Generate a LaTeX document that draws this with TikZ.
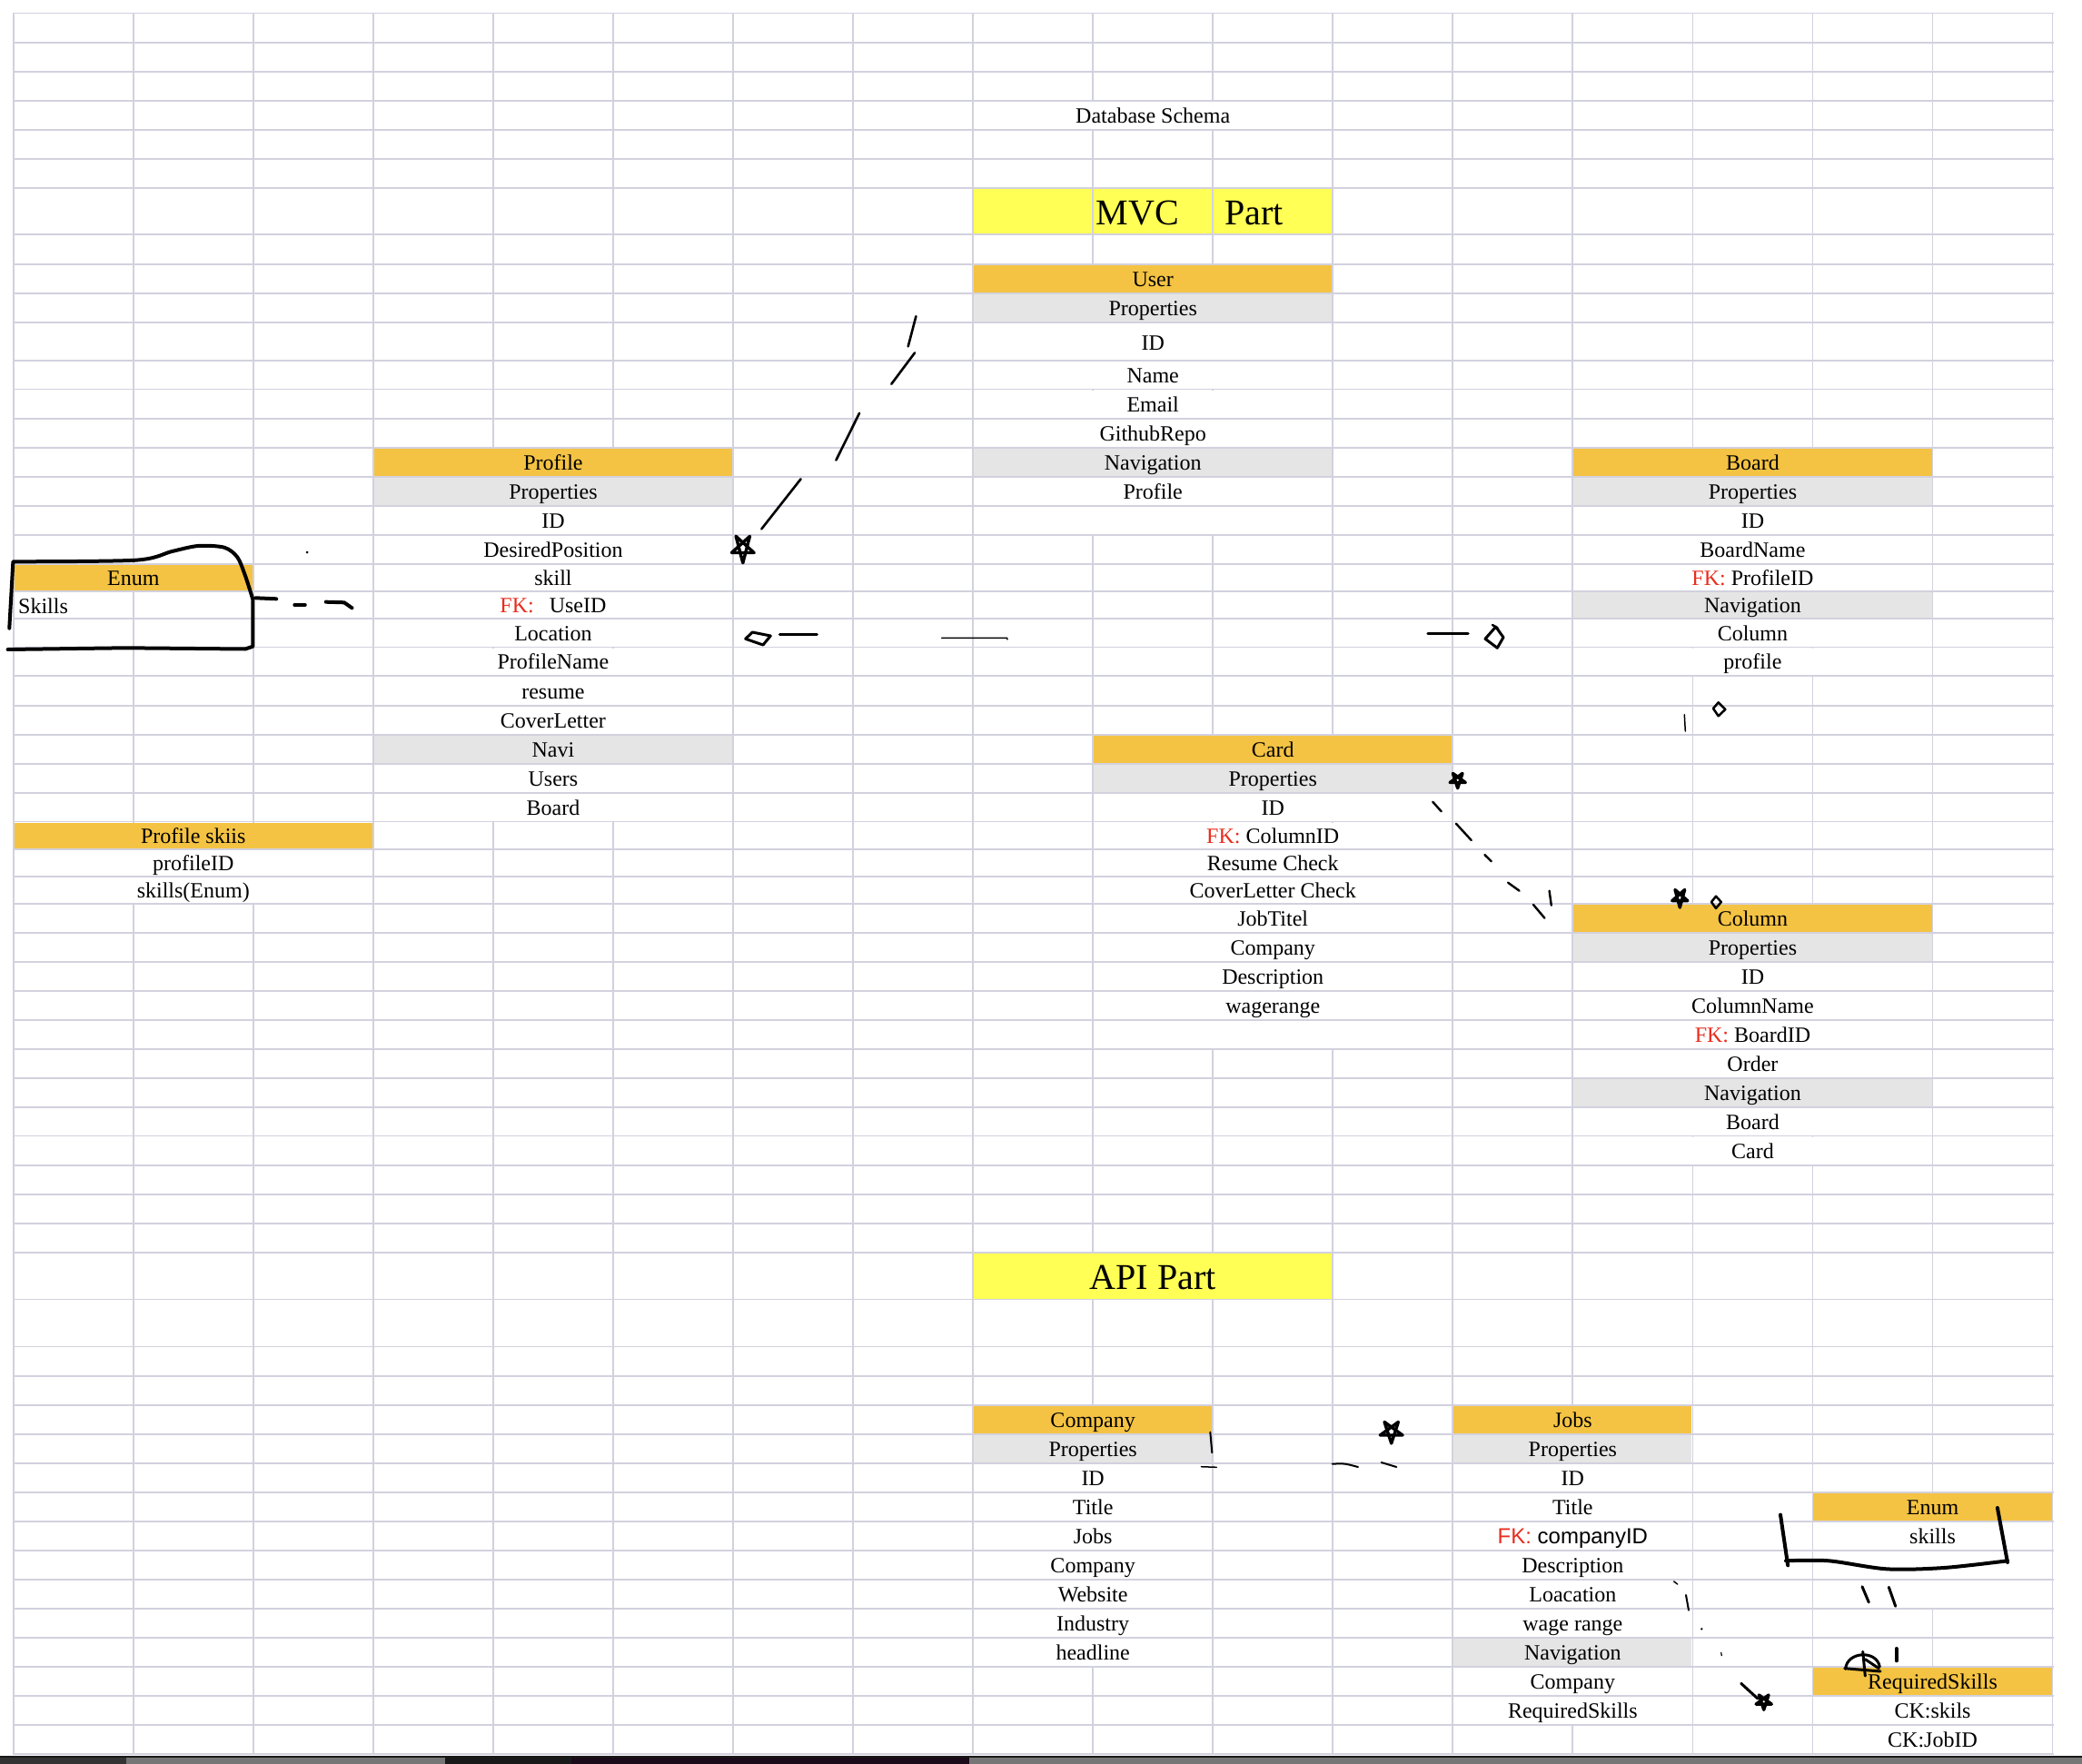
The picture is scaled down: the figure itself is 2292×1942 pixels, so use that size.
\documentclass[tikz,border=0pt]{standalone}
\usepackage{fontspec}
\setmainfont{Liberation Serif}
\newfontfamily\arialf{Liberation Sans}
\usetikzlibrary{calc}
\definecolor{gridc}{RGB}{210,209,222}
\definecolor{hdr}{RGB}{244,195,67}
\definecolor{ttl}{RGB}{255,255,85}
\definecolor{prop}{RGB}{229,229,229}
\definecolor{fkred}{RGB}{232,45,30}
\definecolor{barg}{RGB}{118,118,118}
\definecolor{bard}{RGB}{27,10,26}
\def\RY{{14.5,46.8,78.8,110.7,143.0,174.9,206.9,258.3,291.0,322.9,354.8,396.7,428.6,460.6,492.9,524.8,556.8,588.6,620.6,650.7,680.7,712.5,744.3,776.7,808.6,840.7,872.7,904.5,934.6,964.6,995.0,1026.8,1058.9,1090.7,1122.6,1155.0,1186.8,1218.7,1250.5,1282.8,1314.7,1346.6,1378.9,1430.5,1482.5,1514.8,1546.7,1578.7,1611.0,1643.0,1674.7,1706.6,1738.6,1770.9,1802.8,1834.6,1866.9,1899.1,1931.0}}
\newcommand\mkfill[4]{%
  \pgfmathsetmacro\xa{14.7+132.05*#1+1}%
  \pgfmathsetmacro\xb{14.7+132.05*#2-1}%
  \pgfmathtruncatemacro\rn{#3+1}%
  \pgfmathsetmacro\ya{\RY[#3]+1}%
  \pgfmathsetmacro\yb{\RY[\rn]-1}%
  \fill[#4] (\xa,\ya) rectangle (\xb,\yb);}
\newcommand\mktext[6][8.5]{%
  \pgfmathsetmacro\xc{14.7+132.05*(#3+#4)/2}%
  \pgfmathtruncatemacro\rn{#5+1}%
  \pgfmathsetmacro\ya{\RY[#5]}%
  \pgfmathsetmacro\yb{\RY[\rn]}%
  \pgfmathsetmacro\yc{(\ya+\yb)/2+#1}%
  \node[celltxt] (#2) at (\xc,\yc) {#6};}
\newcommand\hstar[4][1]{%
  \draw[handd, line width=3.4, shift={(#2,#3)}, yscale=#1] (90:#4) -- (234:#4) -- (18:#4) -- (162:#4) -- (306:#4) -- cycle;}
\newcommand\fk{\textcolor{fkred}{FK:}}
\tikzset{
  gridline/.style={draw=gridc, line width=1.8, line cap=rect},
  celltxt/.style={anchor=base, inner sep=0pt, font=\fontsize{24}{28}\selectfont, text=black},
  titletxt/.style={anchor=base, inner sep=0pt, font=\fontsize{40}{46}\selectfont, text=black},
  handd/.style={draw=black, line width=3, line cap=round, line join=round},
}
\begin{document}
\begin{tikzpicture}[x=1pt,y=-1pt]
\useasboundingbox (0,0) rectangle (2292,1942);
\fill[white] (0,0) rectangle (2292,1942);
% vertical grid lines
\foreach \k in {0,...,17} \draw[gridline] ({14.7+132.05*\k},14.5) -- ({14.7+132.05*\k},1931);
% ---- fills and merged cells
\mkfill{8}{11}{3}{white}
\mkfill{8}{9}{6}{ttl}\mkfill{9}{10}{6}{ttl}\mkfill{10}{11}{6}{ttl}
% User
\mkfill{8}{11}{8}{hdr}\mkfill{8}{11}{9}{prop}\mkfill{8}{11}{14}{prop}
\foreach \r in {10,11,12,13,15,16} {\mkfill{8}{11}{\r}{white}}
% Profile
\mkfill{3}{6}{14}{hdr}\mkfill{3}{6}{15}{prop}\mkfill{3}{6}{24}{prop}
\foreach \r in {16,17,18,19,20,21,22,23,25,26} {\mkfill{3}{6}{\r}{white}}
% Board
\mkfill{13}{16}{14}{hdr}\mkfill{13}{16}{15}{prop}\mkfill{13}{16}{19}{prop}
\foreach \r in {16,17,18,20,21} {\mkfill{13}{16}{\r}{white}}
% Enum left
\mkfill{0}{2}{18}{hdr}
% Profile skiis
\mkfill{0}{3}{27}{hdr}
\foreach \r in {28,29} {\mkfill{0}{3}{\r}{white}}
% Card
\mkfill{9}{12}{24}{hdr}\mkfill{9}{12}{25}{prop}
\foreach \r in {26,...,34} {\mkfill{9}{12}{\r}{white}}
% Column
\mkfill{13}{16}{30}{hdr}\mkfill{13}{16}{31}{prop}\mkfill{13}{16}{36}{prop}
\foreach \r in {32,33,34,35,37,38} {\mkfill{13}{16}{\r}{white}}
% API part
\mkfill{8}{11}{42}{ttl}
% Company
\mkfill{8}{10}{46}{hdr}\mkfill{8}{10}{47}{prop}
\foreach \r in {48,...,54} {\mkfill{8}{10}{\r}{white}}
% Jobs
\mkfill{12}{14}{46}{hdr}\mkfill{12}{14}{47}{prop}\mkfill{12}{14}{54}{prop}
\foreach \r in {48,49,50,51,52,53,55,56} {\mkfill{12}{14}{\r}{white}}
% Enum right
\mkfill{15}{17}{49}{hdr}
\foreach \r in {50,51,52} {\mkfill{15}{17}{\r}{white}}
% RequiredSkills
\mkfill{15}{17}{55}{hdr}
\foreach \r in {56,57} {\mkfill{15}{17}{\r}{white}}
% horizontal grid lines
\foreach \y in {14.5,46.8,78.8,110.7,143.0,174.9,206.9,258.3,291.0,322.9,354.8,396.7,428.6,460.6,492.9,524.8,556.8,588.6,620.6,650.7,680.7,712.5,744.3,776.7,808.6,840.7,872.7,904.5,934.6,964.6,995.0,1026.8,1058.9,1090.7,1122.6,1155.0,1186.8,1218.7,1250.5,1282.8,1314.7,1346.6,1378.9,1430.5,1482.5,1514.8,1546.7,1578.7,1611.0,1643.0,1674.7,1706.6,1738.6,1770.9,1802.8,1834.6,1866.9,1899.1,1931.0}
  \draw[gridline] (14.7,\y) -- (2259.6,\y);
% ---- texts
\mktext{dbs}{8}{11}{3}{Database Schema}
\node[titletxt, anchor=base west] (mvc) at (1206.5,247.6) {MVC};
\node[titletxt, anchor=base west] (part) at (1348,247.6) {Part};
% User
\mktext{uh}{8}{11}{8}{User}
\mktext{up}{8}{11}{9}{Properties}
\mktext[10]{uid}{8}{11}{10}{ID}
\mktext{uname}{8}{11}{11}{Name}
\mktext{uemail}{8}{11}{12}{Email}
\mktext{ugit}{8}{11}{13}{GithubRepo}
\mktext{unav}{8}{11}{14}{Navigation}
\mktext{uprof}{8}{11}{15}{Profile}
% Profile
\mktext{ph}{3}{6}{14}{Profile}
\mktext{pp}{3}{6}{15}{Properties}
\mktext{pid}{3}{6}{16}{ID}
\mktext{pdes}{3}{6}{17}{DesiredPosition}
\mktext{pskill}{3}{6}{18}{skill}
\mktext{pfk}{3}{6}{19}{\fk\hspace{17pt}UseID}
\mktext{ploc}{3}{6}{20}{Location}
\mktext{pname}{3}{6}{21}{ProfileName}
\mktext{pres}{3}{6}{22}{resume}
\mktext{pcov}{3}{6}{23}{CoverLetter}
\mktext{pnavi}{3}{6}{24}{Navi}
\mktext{pusers}{3}{6}{25}{Users}
\mktext{pboard}{3}{6}{26}{Board}
% Board
\mktext{bh}{13}{16}{14}{Board}
\mktext{bp}{13}{16}{15}{Properties}
\mktext{bid}{13}{16}{16}{ID}
\mktext{bname}{13}{16}{17}{BoardName}
\mktext{bfk}{13}{16}{18}{\fk{} ProfileID}
\mktext{bnav}{13}{16}{19}{Navigation}
\mktext{bcol}{13}{16}{20}{Column}
\mktext{bprof}{13}{16}{21}{profile}
% Enum left
\mktext{eh}{0}{2}{18}{Enum}
\node[celltxt, anchor=base west] (eskills) at (20,675) {Skills};
% Profile skiis
\mktext{psh}{0}{3}{27}{Profile skiis}
\mktext{psid}{0}{3}{28}{profileID}
\mktext{psen}{0}{3}{29}{skills(Enum)}
% Card
\mktext{ch}{9}{12}{24}{Card}
\mktext{cp}{9}{12}{25}{Properties}
\mktext{cid}{9}{12}{26}{ID}
\mktext{cfk}{9}{12}{27}{\fk{} ColumnID}
\mktext{crc}{9}{12}{28}{Resume Check}
\mktext{ccc}{9}{12}{29}{CoverLetter Check}
\mktext{cjt}{9}{12}{30}{JobTitel}
\mktext{ccomp}{9}{12}{31}{Company}
\mktext{cdesc}{9}{12}{32}{Description}
\mktext{cwage}{9}{12}{33}{wagerange}
% Column
\mktext{colh}{13}{16}{30}{Column}
\mktext{colp}{13}{16}{31}{Properties}
\mktext{colid}{13}{16}{32}{ID}
\mktext{colname}{13}{16}{33}{ColumnName}
\mktext{colfk}{13}{16}{34}{\fk{} BoardID}
\mktext{colord}{13}{16}{35}{Order}
\mktext{colnav}{13}{16}{36}{Navigation}
\mktext{colb}{13}{16}{37}{Board}
\mktext{colc}{13}{16}{38}{Card}
% API
\node[titletxt] (api) at (1269.1,1419.3) {API Part};
% Company
\mktext{coh}{8}{10}{46}{Company}
\mktext{cop}{8}{10}{47}{Properties}
\mktext{coid}{8}{10}{48}{ID}
\mktext{cotitle}{8}{10}{49}{Title}
\mktext{cojobs}{8}{10}{50}{Jobs}
\mktext{cocomp}{8}{10}{51}{Company}
\mktext{coweb}{8}{10}{52}{Website}
\mktext{coind}{8}{10}{53}{Industry}
\mktext{cohead}{8}{10}{54}{headline}
% Jobs
\mktext{jh}{12}{14}{46}{Jobs}
\mktext{jp}{12}{14}{47}{Properties}
\mktext{jid}{12}{14}{48}{ID}
\mktext{jtitle}{12}{14}{49}{Title}
\mktext{jfk}{12}{14}{50}{\arialf\fk{} companyID}
\mktext{jdesc}{12}{14}{51}{Description}
\mktext{jloc}{12}{14}{52}{Loacation}
\mktext{jwage}{12}{14}{53}{wage range}
\mktext{jnav}{12}{14}{54}{Navigation}
\mktext{jcomp}{12}{14}{55}{Company}
\mktext{jreq}{12}{14}{56}{RequiredSkills}
% Enum right
\mktext{erh}{15}{17}{49}{Enum}
\mktext{erskills}{15}{17}{50}{skills}
% RequiredSkills
\mktext{rsh}{15}{17}{55}{RequiredSkills}
\mktext{rsk}{15}{17}{56}{CK:skils}
\mktext{rsj}{15}{17}{57}{CK:JobID}
% ---- hand drawn marks
% User -> Profile
\draw[handd, line width=2.6] (1008.4,348.2) -- (999.7,381.4);
\draw[handd, line width=2.6] (1007,388.4) -- (981.3,422.8);
\draw[handd, line width=2.6] (946.1,454.8) -- (920.4,506.6);
\draw[handd, line width=2.6] (881.6,527.3) -- (838.3,582.4);
\hstar[1.25]{817.8}{603.5}{13}
% left enum box
\draw[handd, line width=4] (10.3,691.7) -- (14.4,618.3) -- plot[smooth] coordinates {(14.4,618.3) (149.3,616.7) (189.4,607) (218.1,601) (246.8,602.7) (261.2,613.3) (269.8,633.3) (278.4,660)} -- (278.4,711.7) -- (270,714.5) -- (137.8,713.3) -- (8.6,715);
\draw[handd, line width=4] (281.3,658.3) -- (304.2,659.3);
\draw[handd, line width=4] (324.3,666) -- (335.8,666);
\draw[handd, line width=4] (358.8,662.7) -- (378.9,663.3) -- (387.5,669.3);
\fill[black] (338.1,608.1) circle (1.5);
% middle row marks
\draw[handd, line width=3] (820.7,703.3) -- (828.3,696) -- (848.3,700) -- (840,710) -- cycle;
\draw[handd, line width=3] (858.3,698.3) -- (899.3,698.3);
\draw[handd, line width=1.5] (1036.7,702.3) -- (1108.6,702.3) -- (1109,704);
\draw[handd, line width=3.5] (1572,697.7) -- (1616,697.7);
\draw[handd, line width=3] (1646.7,690) -- (1655,701.7) -- (1648.3,713.3) -- (1635,703.3) -- cycle;
\draw[handd, line width=2.5] (1643,688) -- (1649,692);
\draw[handd, line width=1.5] (1854.3,786.7) -- (1855.3,805);
\draw[handd, line width=2.5] (1891.7,773.3) -- (1899.3,781) -- (1891.7,788.3) -- (1886,780) -- cycle;
% Card -> Column
\hstar{1604.7}{858.7}{9}
\draw[handd, line width=2.4] (1577.2,882.7) -- (1586.7,893.3);
\draw[handd, line width=2.4] (1602.9,906.7) -- (1619.7,925);
\draw[handd, line width=2.4] (1634.4,941) -- (1641.8,948.3);
\draw[handd, line width=2.4] (1660.1,971.7) -- (1672.6,980.7);
\draw[handd, line width=2.4] (1705.6,980.7) -- (1707.8,996.7);
\draw[handd, line width=2.4] (1688,996) -- (1700.4,1010.7);
\hstar[1.2]{1849.3}{988.3}{9}
\draw[handd, line width=2.5] (1889,986.7) -- (1894.8,993) -- (1889,1000) -- (1884,993) -- cycle;
% Company -> Jobs
\draw[handd, line width=2] (1332.3,1576.7) -- (1334.3,1599.3);
\draw[handd, line width=1.5] (1322.3,1614.7) -- (1339.3,1615.3);
\draw[handd, line width=2] (1466.7,1611.7) .. controls (1480,1611) .. (1495,1615);
\draw[handd, line width=2] (1520.7,1610) -- (1537.3,1615);
\hstar{1531.7}{1576}{13}
% right enum bracket
\draw[handd, line width=4] (1960,1667.6) -- (1968.2,1723.3);
\draw[handd, line width=4] plot[smooth] coordinates {(1966,1718.3) (2013.3,1718.3) (2076.7,1727.3) (2140,1726) (2210,1718.3)};
\draw[handd, line width=4] (2210,1720) -- (2198.9,1660);
\draw[handd, line width=3] (2050,1746.7) -- (2057.3,1764);
\draw[handd, line width=3] (2079.3,1747.3) -- (2086.7,1768.3);
\draw[handd, line width=4] (2087.7,1815) -- (2087.7,1828.3);
\draw[handd, line width=3] (2031.7,1837.3) .. controls (2033,1818) and (2066,1816) .. (2069.3,1835);
\draw[handd, line width=3] (2030.7,1836.7) -- (2070,1840);
\draw[handd, line width=3] (2050.7,1818.3) -- (2053.3,1845);
\draw[handd, line width=3] (2053.3,1826.7) -- (2068.3,1836.7);
% Jobs -> RequiredSkills
\draw[handd, line width=1.5] (1842.7,1741) -- (1846.7,1744);
\draw[handd, line width=2] (1856,1756) -- (1859,1772.7);
\fill[black] (1873.3,1793.3) circle (1.3);
\draw[handd, line width=1.2] (1894.7,1819.3) -- (1895.3,1822.7);
\draw[handd, line width=3] (1916.7,1853.3) -- (1935,1870);
\hstar{1941.7}{1873.3}{9}
% bottom bar
\fill[black!90] (0,1932.5) rectangle (2292,1942);
\fill[black!80] (0,1934.5) rectangle (139,1942);
\fill[barg] (139,1934.5) rectangle (490,1942);
\fill[bard] (629,1934.5) rectangle (1067,1942);
\fill[barg] (1067,1934.5) rectangle (2292,1942);
\end{tikzpicture}
\end{document}
